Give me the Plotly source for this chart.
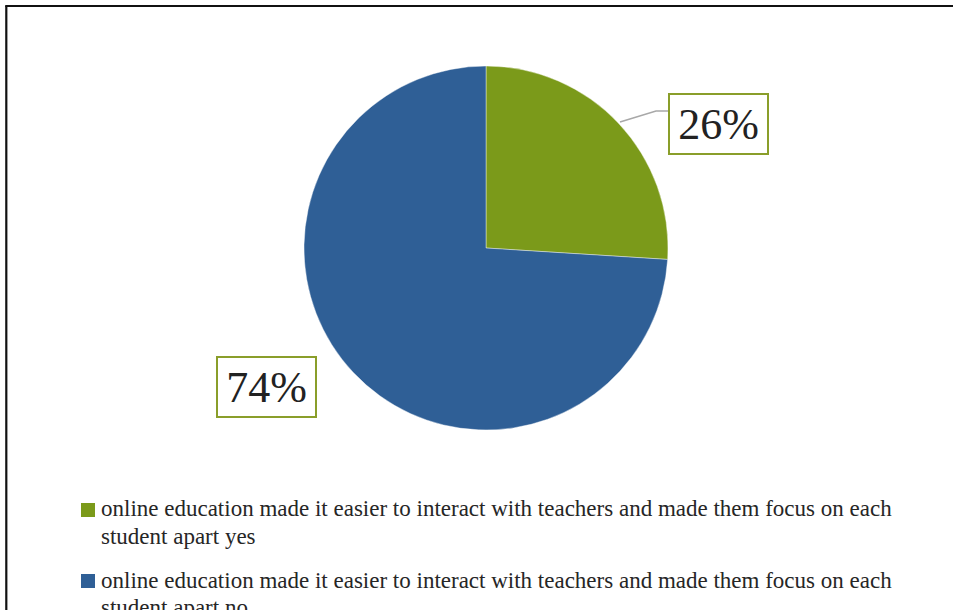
import plotly.graph_objects as go

# Survey answers and their shares (percent)
labels = [
    "online education made it easier to interact with teachers and made them focus on each student apart yes",
    "online education made it easier to interact with teachers and made them focus on each student apart no",
]
values = [26, 74]
colors = ["#7b9a1a", "#2f5f96"]

W, H = 953, 610


def px(x):
    return x / W


def py(y):
    return 1 - y / H


fig = go.Figure()

fig.add_trace(go.Pie(
    labels=labels,
    values=values,
    sort=False,
    direction="clockwise",
    rotation=0,
    textinfo="none",
    hoverinfo="label+percent",
    marker=dict(colors=colors, line=dict(color="rgba(255,255,255,0.5)", width=0.8)),
    domain=dict(x=[px(304), px(668)], y=[py(430), py(66)]),
    showlegend=False,
))

serif = "Liberation Serif, Times New Roman, serif"

# Percentage call-outs in framed boxes
box_centers = [(718.5, 124), (266, 387)]
total = sum(values)
for v, (cx, cy) in zip(values, box_centers):
    fig.add_annotation(
        x=px(cx), y=py(cy), xref="paper", yref="paper",
        text=f"{round(v / total * 100)}%",
        showarrow=False,
        xanchor="center", yanchor="middle",
        font=dict(family=serif, size=44, color="#222222"),
        width=97, height=58,
        bordercolor="#8a9e2a", borderwidth=2, borderpad=0,
        bgcolor="white",
    )

# Leader line from the small slice to its call-out
fig.add_shape(
    type="path", xref="paper", yref="paper",
    path=f"M {px(620)},{py(122)} L {px(656)},{py(111)} L {px(668)},{py(111)}",
    line=dict(color="#a8a8a8", width=1.5),
)

# Legend drawn as colour squares with wrapped captions
legend_rows = [503, 574]
line_gap = 27
for lab, col, top in zip(labels, colors, legend_rows):
    fig.add_shape(
        type="rect", xref="paper", yref="paper",
        x0=px(81), x1=px(95), y0=py(top + 14), y1=py(top),
        fillcolor=col, line=dict(width=0),
    )
    cut = "each "
    i = lab.index(cut) + len(cut)
    lines = [lab[:i].rstrip(), lab[i:]]
    baseline = top + 14
    for k, txt in enumerate(lines):
        fig.add_annotation(
            x=px(99), y=py(baseline + k * line_gap - 8), xref="paper", yref="paper",
            text=txt, showarrow=False,
            xanchor="left", yanchor="middle", align="left",
            font=dict(family=serif, size=23, color="#262626"),
        )

# Chart frame (left and top edges visible)
fig.add_shape(type="line", xref="paper", yref="paper",
              x0=px(6.3), x1=px(6.3), y0=py(6), y1=-0.05,
              line=dict(color="#111111", width=2.2))
fig.add_shape(type="line", xref="paper", yref="paper",
              x0=px(5.2), x1=1.05, y0=py(6), y1=py(6),
              line=dict(color="#111111", width=2.2))

fig.update_layout(
    width=W, height=H,
    margin=dict(l=0, r=0, t=0, b=0),
    paper_bgcolor="white",
    plot_bgcolor="white",
)

fig.write_html("out.html")
